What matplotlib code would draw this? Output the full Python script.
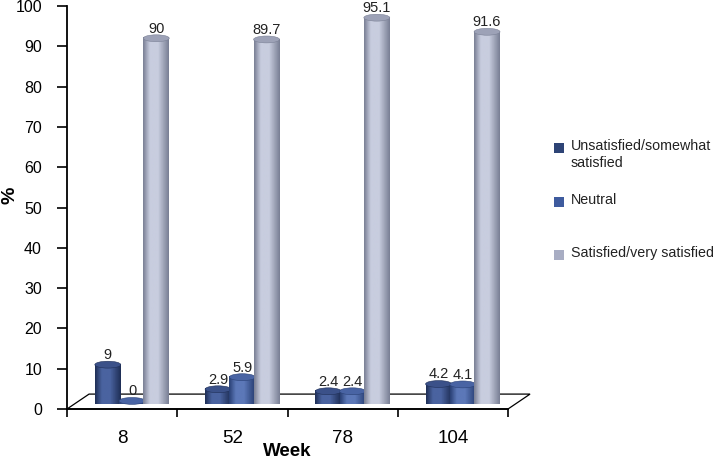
import numpy as np
import matplotlib.pyplot as plt
from matplotlib.patches import Ellipse, Polygon, Rectangle
from matplotlib.colors import LinearSegmentedColormap

plt.rcParams['font.family'] = ['Liberation Sans', 'DejaVu Sans']

weeks = ['8', '52', '78', '104']
unsatisfied = [9, 2.9, 2.4, 4.2]
neutral = [0, 5.9, 2.4, 4.1]
satisfied = [90, 89.7, 95.1, 91.6]
series = [unsatisfied, neutral, satisfied]
names = ['Unsatisfied/somewhat\nsatisfied', 'Neutral', 'Satisfied/very satisfied']

# (edge, highlight, top, legend)
shades = [
    ('#1f2f57', '#4a63a0', '#3b5189', '#2e4476'),
    ('#2a4176', '#5c78b8', '#4964a4', '#3e5b9e'),
    ('#7b8196', '#c8cddf', '#9da2b7', '#a8adc3'),
]

W, H = 715, 459
fig = plt.figure(figsize=(W / 100, H / 100), dpi=100)
ax = fig.add_axes([67 / W, (H - 409) / H, 441 / W, 403 / H])

depth_x, depth_y = 0.2, 3.7      # floor depth
bar_dx, bar_dy = 0.09, 2.0       # bars sit halfway back
bw, step, eh = 0.235, 0.22, 1.7


def cylinder(xc, h, y0, cols, z):
    edge, light, top, _ = cols
    cmap = LinearSegmentedColormap.from_list('c', [edge, light, light, edge], N=64)
    grad = np.linspace(0, 1, 64).reshape(1, -1)
    grad = np.interp(grad, [0, 0.35, 0.5, 1], [0, 0.45, 0.6, 1])
    x0, x1 = xc - bw / 2, xc + bw / 2
    t = np.linspace(0, np.pi, 30)
    bottom = np.column_stack([xc + bw / 2 * np.cos(t), y0 - eh / 2 * np.sin(t)])
    pts = np.vstack([[[x0, y0 + h]], [[x1, y0 + h]], bottom])
    clip = Polygon(pts, closed=True, transform=ax.transData)
    im = ax.imshow(grad, extent=[x0, x1, y0 - eh / 2, y0 + h], aspect='auto',
                   cmap=cmap, zorder=z, interpolation='bilinear', clip_on=False)
    im.set_clip_path(clip)
    ax.add_patch(Ellipse((xc, y0 + h), bw, eh, fc=top, ec=edge, lw=0.4, zorder=z + 0.1,
                         clip_on=False))


# floor
floor = Polygon([[0, 0], [depth_x, depth_y], [4 + depth_x, depth_y], [4, 0]],
                closed=True, fc='white', ec='black', lw=0.9, zorder=1, clip_on=False)
ax.add_patch(floor)

offsets = [-step, 0, step]
for i in range(len(weeks)):
    for j, vals in enumerate(series):
        xc = i + 0.5 + offsets[j] + bar_dx
        v = vals[i]
        cylinder(xc, v, bar_dy, shades[j], 2 + i * 3 + j)
        ax.text(xc, bar_dy + v + eh / 2 - 0.2, f'{v:g}', ha='center', va='bottom',
                fontsize=10.5, color='#222222', zorder=30, clip_on=False)

ax.set_xlim(0, 4)
ax.set_ylim(0, 100)
for s in ['top', 'right']:
    ax.spines[s].set_visible(False)
ax.spines['left'].set_linewidth(1.3)
ax.spines['bottom'].set_linewidth(1.3)

ax.set_yticks(range(0, 101, 10))
ax.tick_params(axis='y', direction='out', length=7, width=1.2, pad=11, labelsize=11.5)
ax.set_xticks([0.5, 1.5, 2.5, 3.5])
ax.set_xticklabels(weeks)
ax.set_xticks([0, 1, 2, 3, 4], minor=True)
ax.tick_params(axis='x', which='major', length=0, pad=15, labelsize=13.5)
ax.tick_params(axis='x', which='minor', direction='out', length=6, width=1.2)

ax.set_xlabel('Week', fontsize=13.5, fontweight='bold', labelpad=-3)
ax.set_ylabel('%', fontsize=14, fontweight='bold')
ax.yaxis.set_label_coords(-0.11, 0.53)

# legend
legend_y = [148, 202, 255]
for (cols, name, y) in zip(shades, names, legend_y):
    fig.add_artist(Rectangle((554 / W, 1 - (y + 5) / H), 10 / W, 10 / H,
                             transform=fig.transFigure, fc=cols[3], ec='none'))
    fig.text(571 / W, 1 - (y - 9) / H, name, fontsize=10.3, va='top', ha='left',
             linespacing=1.3, color='#222222')

fig.savefig('out.png', dpi=100)
